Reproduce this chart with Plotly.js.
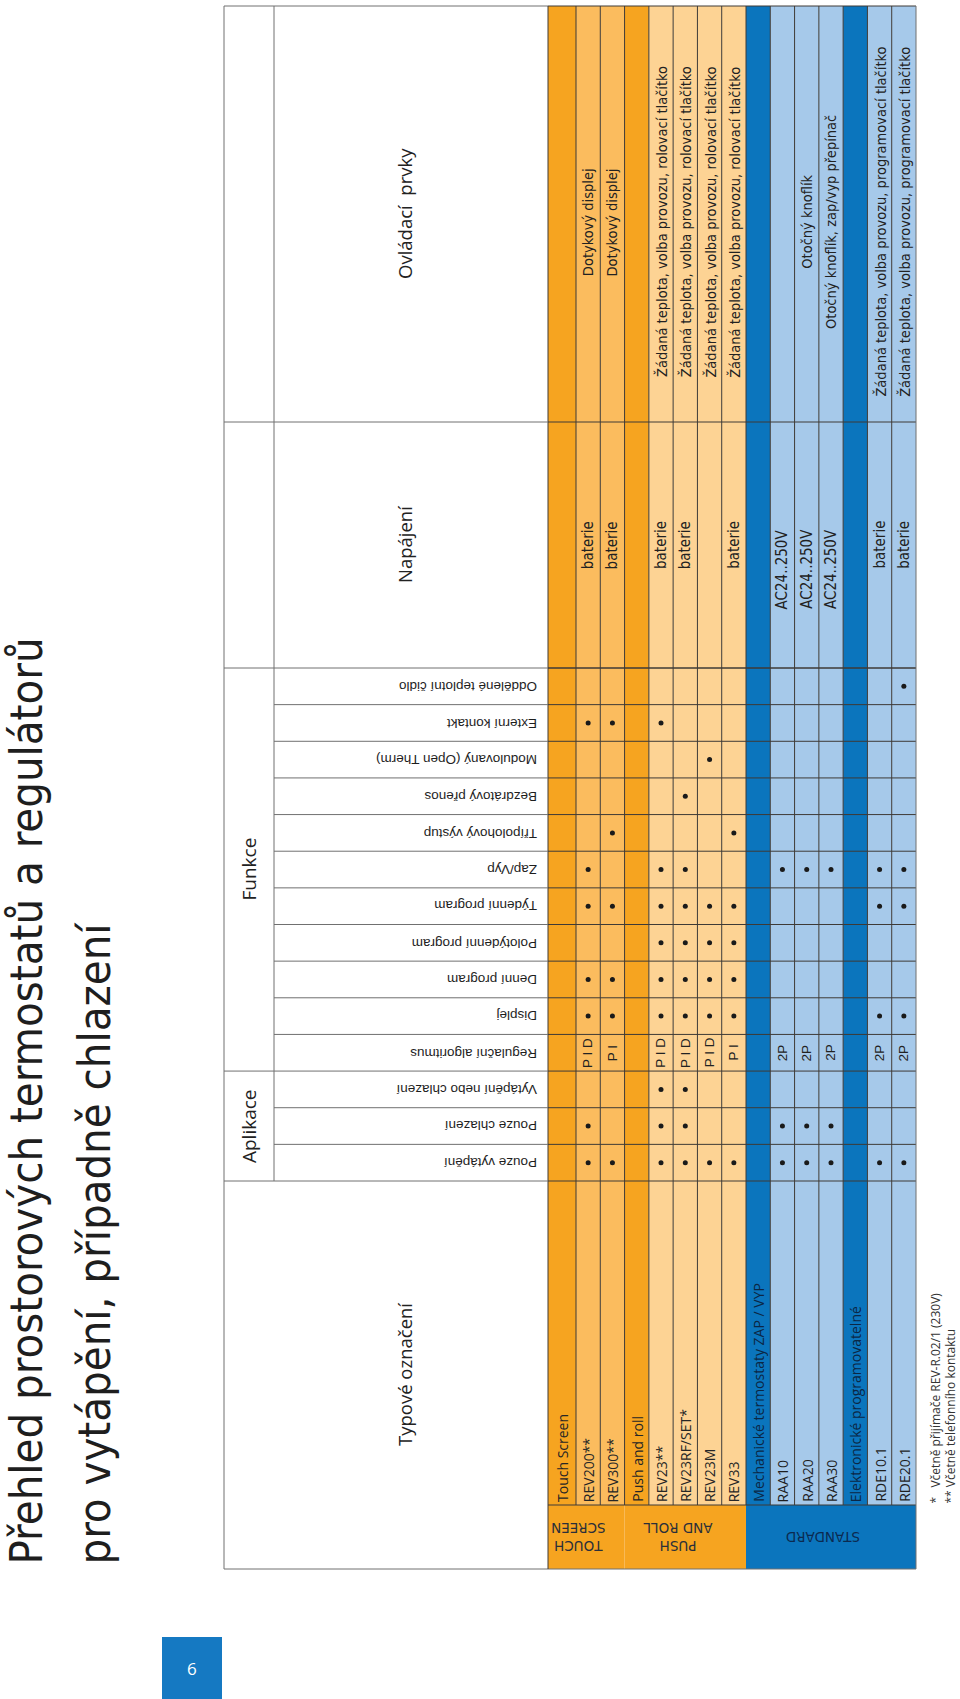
<!DOCTYPE html>
<html><head><meta charset="utf-8">
<script src="https://cdn.plot.ly/plotly-3.0.1.min.js"></script>
<style>html,body{margin:0;padding:0;background:#fff}</style>
</head><body><div id="chart" style="width:960px;height:1699px"></div>
<script>
// ---------------- DATA ----------------
const titleLines = ['Přehled prostorových termostatů a regulátorů', 'pro vytápění, případně chlazení'];
const pageNumber = '6';
const headerTypeLabel = 'Typové označení';
const headerSupply = 'Napájení';
const headerControls = 'Ovládací\u00a0 prvky';
const groupApp = 'Aplikace';
const groupFunc = 'Funkce';
// feature columns, from "Pouze vytápění" upward
const features = ['Pouze vytápění','Pouze chlazení','Vytápění nebo chlazení','Regulační algoritmus','Displej',
  'Denní program','Polotýdenní program','Týdenní program','Zap/Vyp','Třípolohový výstup','Bezdrátový přenos',
  'Modulovaný (Open Therm)','Externí kontakt','Oddělené teplotní čidlo'];
const appCount = 3; // first 3 features belong to "Aplikace"
const products = ['Touch Screen','REV200**','REV300**','Push and roll','REV23**','REV23RF/SET*','REV23M','REV33',
  'Mechanické termostaty ZAP / VYP','RAA10','RAA20','RAA30','Elektronické programovatelné','RDE10.1','RDE20.1'];
const rowKinds = ['ho','o1','o1','ho','o2','o2','o2','o2','hb','b','b','b','hb','b','b'];
const D = '•';
const featureMatrix = [
  ['','','','','','','','','','','','','',''],
  [D, D, '', 'P I D', D, D, '', D, D, '', '', '', D, ''],
  [D, '', '', 'P I', D, D, '', D, '', D, '', '', D, ''],
  ['','','','','','','','','','','','','',''],
  [D, D, D, 'P I D', D, D, D, D, D, '', '', '', D, ''],
  [D, D, D, 'P I D', D, D, D, D, D, '', D, '', '', ''],
  [D, '', '', 'P I D', D, D, D, D, '', '', '', D, '', ''],
  [D, '', '', 'P I', D, D, D, D, '', D, '', '', '', ''],
  ['','','','','','','','','','','','','',''],
  [D, D, '', '2P', '', '', '', '', D, '', '', '', '', ''],
  [D, D, '', '2P', '', '', '', '', D, '', '', '', '', ''],
  [D, D, '', '2P', '', '', '', '', D, '', '', '', '', ''],
  ['','','','','','','','','','','','','',''],
  [D, '', '', '2P', D, '', '', D, D, '', '', '', '', ''],
  [D, '', '', '2P', D, '', '', D, D, '', '', '', '', D]
];
const supply = ['', 'baterie', 'baterie', '', 'baterie', 'baterie', '', 'baterie', '',
  'AC24..250V', 'AC24..250V', 'AC24..250V', '', 'baterie', 'baterie'];
const controls = ['', 'Dotykový displej', 'Dotykový displej', '',
  'Žádaná teplota, volba provozu, rolovací tlačítko', 'Žádaná teplota, volba provozu, rolovací tlačítko',
  'Žádaná teplota, volba provozu, rolovací tlačítko', 'Žádaná teplota, volba provozu, rolovací tlačítko', '',
  '', 'Otočný knoflík', 'Otočný knoflík, zap/vyp přepínač', '',
  'Žádaná teplota, volba provozu, programovací tlačítko', 'Žádaná teplota, volba provozu, programovací tlačítko'];
const groupLabels = ['TOUCH<br>SCREEN', 'PUSH<br>AND ROLL', 'STANDARD'];
const groupRows = [[0, 2], [3, 7], [8, 14]];
const footnotes = ['*\u00a0\u00a0\u00a0Včetně přijímače REV-R.02/1 (230V)', '**\u00a0Včetně telefonního kontaktu'];

// ---------------- GEOMETRY / STYLE ----------------
const G = {top: 6, left: 224, band: 274, hdrRight: 548, row1: 576, right: 916,
  supplyTop: 422, colTop: 668, colBot: 1181, labelBot: 1505, bottom: 1569};
const rowH = (G.right - G.row1) / (products.length - 1);
const colH = (G.colBot - G.colTop) / features.length;
const rowStart = i => i === 0 ? G.hdrRight : G.row1 + (i - 1) * rowH;
const rowEnd = i => G.row1 + i * rowH;
const rowC = i => (rowStart(i) + rowEnd(i)) / 2;
const colTopY = j => G.colBot - (j + 1) * colH;
const colC = j => G.colBot - (j + 0.5) * colH;
const kindFill = {ho: '#F6A420', o1: '#FBBC5E', o2: '#FDD394', hb: '#0B75BD', b: '#A6C9EA'};
const kindText = {ho: '#262626', o1: '#262626', o2: '#262626', hb: '#0b2745', b: '#1e1e1e'};
const groupFill = ['#F6A420', '#F6A420', '#0B75BD'];
const groupText = ['#2a2f3a', '#2a2f3a', '#0b2a50'];
const LINE = '#3e3a36', HLINE = '#707070';
const NARROW = '"Liberation Sans Narrow", "Arial Narrow", "DejaVu Sans Condensed", sans-serif';
const SANS = '"Open Sans", "Noto Sans", sans-serif';
const ARIAL = '"Liberation Sans", Arial, sans-serif';

const shapes = [], ann = [];
const rect = (x0, x1, y0, y1, fill) => shapes.push({type: 'rect', xref: 'x', yref: 'y', x0, x1, y0, y1,
  fillcolor: fill, line: {width: 0}, layer: 'below'});
const line = (x0, x1, y0, y1, color, w) => shapes.push({type: 'line', xref: 'x', yref: 'y', x0, x1, y0, y1,
  line: {color: color, width: w || 1}, layer: 'below'});
const text = (o) => ann.push(Object.assign({xref: 'x', yref: 'y', showarrow: false, borderpad: 0}, o));

// row fills
products.forEach((p, i) => rect(rowStart(i), rowEnd(i), G.top, G.labelBot, kindFill[rowKinds[i]]));
groupRows.forEach((g, k) => rect(rowStart(g[0]), rowEnd(g[1]), G.labelBot, G.bottom, groupFill[k]));
// data grid lines
for (let i = 1; i < products.length; i++) line(rowStart(i), rowStart(i), G.top, G.labelBot, LINE);
const hy = [G.top, G.supplyTop, G.colTop];
for (let j = 0; j < features.length; j++) hy.push(colTopY(j));
hy.push(G.colBot, G.labelBot);
hy.forEach(y => line(G.hdrRight, G.right, y, y, LINE));
line(G.hdrRight, G.right, G.bottom, G.bottom, HLINE);
line(G.right, G.right, G.top, G.bottom, HLINE);
// header grid
line(G.left, G.hdrRight, G.top, G.top, HLINE);
line(G.left, G.hdrRight, G.bottom, G.bottom, HLINE);
line(G.left, G.left, G.top, G.bottom, HLINE);
line(G.hdrRight, G.hdrRight, G.top, G.bottom, LINE);
line(G.band, G.band, G.top, G.colBot, HLINE);
[G.supplyTop, G.colTop, G.colBot].forEach(y => line(G.left, G.hdrRight, y, y, HLINE));
line(G.left, G.hdrRight, colTopY(appCount - 1), colTopY(appCount - 1), HLINE);
for (let j = 0; j < features.length - 1; j++) if (j !== appCount - 1) line(G.band, G.hdrRight, colTopY(j), colTopY(j), HLINE);

// page number box
rect(162, 222, 1637, 1699, '#1579C2');
text({x: 192, y: 1668, text: pageNumber, font: {family: SANS, size: 17, color: '#ffffff'}});

// title (two lines, each its own annotation)
const titleSize = 45;
[26, 94].forEach((cx, k) => text({x: cx, y: 1566, xanchor: 'center', yanchor: 'bottom', textangle: -90,
  text: titleLines[k], font: {family: NARROW, size: titleSize, color: '#1e1e1e', weight: 300}}));

// header texts
const hx = 404;
text({x: hx, y: (G.top + G.supplyTop) / 2, textangle: -90, text: headerControls, font: {family: SANS, size: 18.5, color: '#222'}});
text({x: hx, y: (G.supplyTop + G.colTop) / 2, textangle: -90, text: headerSupply, font: {family: SANS, size: 18.5, color: '#222'}});
text({x: hx, y: (G.colBot + G.bottom) / 2, textangle: -90, text: headerTypeLabel, font: {family: SANS, size: 18.5, color: '#222'}});
const bandC = (G.left + G.band) / 2;
text({x: bandC, y: (G.colTop + colTopY(appCount - 1)) / 2, textangle: -90, text: groupFunc, font: {family: SANS, size: 19, color: '#222'}});
text({x: bandC, y: (colTopY(appCount - 1) + G.colBot) / 2, textangle: -90, text: groupApp, font: {family: SANS, size: 19, color: '#222'}});
features.forEach((f, j) => text({x: G.hdrRight - 10, y: colC(j), xanchor: 'right', textangle: 180, text: f,
  font: {family: ARIAL, size: 13.5, color: '#1e1e1e'}}));

// row labels
products.forEach((p, i) => text({x: rowC(i), y: G.labelBot - 2, yanchor: 'bottom', textangle: -90, text: p,
  font: {family: SANS, size: 14, color: kindText[rowKinds[i]]}}));
// group labels
groupLabels.forEach((g, k) => text({x: (rowStart(groupRows[k][0]) + rowEnd(groupRows[k][1])) / 2 - 8,
  y: (G.labelBot + G.bottom) / 2, textangle: 180, text: g,
  font: {family: '"DejaVu Sans", sans-serif', size: 13.5, color: groupText[k]}}));

// dots + cell texts
const dotX = [], dotY = [];
featureMatrix.forEach((r, i) => r.forEach((v, j) => {
  if (v === D) { dotX.push(rowC(i)); dotY.push(colC(j)); }
  else if (v) text({x: rowC(i), y: colC(j), textangle: -90, text: v, font: {family: ARIAL, size: 13.5, color: '#222'}});
}));
// supply + controls
const supplyShift = {'AC24..250V': 24};
supply.forEach((s, i) => { if (s) text({x: rowC(i), y: (G.supplyTop + G.colTop) / 2 + (supplyShift[s] || 0),
  textangle: -90, text: s, font: {family: NARROW, size: 15, color: '#222'}}); });
controls.forEach((c, i) => { if (c) text({x: rowC(i), y: (G.top + G.supplyTop) / 2 + 8,
  textangle: -90, text: c, font: {family: NARROW, size: 14.5, color: '#222'}}); });

// footnotes
text({x: 943, y: G.labelBot, xanchor: 'center', yanchor: 'bottom', textangle: -90, align: 'left',
  text: footnotes.join('<br>'), font: {family: SANS, size: 12, color: '#333'}});

const traces = [{type: 'scatter', mode: 'markers', x: dotX, y: dotY, hoverinfo: 'skip',
  marker: {size: 5, color: '#1a1a1a'}}];
const layout = {width: 960, height: 1699, margin: {l: 0, r: 0, t: 0, b: 0},
  paper_bgcolor: '#fff', plot_bgcolor: '#fff', showlegend: false,
  xaxis: {range: [0, 960], visible: false, fixedrange: true},
  yaxis: {range: [1699, 0], visible: false, fixedrange: true},
  shapes: shapes, annotations: ann};
Plotly.newPlot('chart', traces, layout, {displayModeBar: false, staticPlot: true});
</script></body></html>
